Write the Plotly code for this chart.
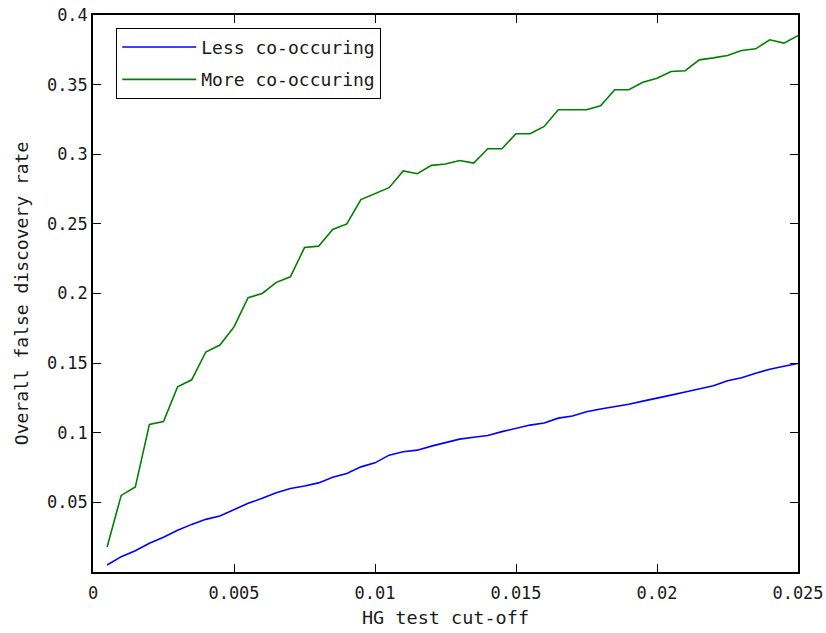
import plotly.graph_objects as go

cutoff = [0.0005 * k for k in range(1, 51)]

less_cooccurring = [
    0.005, 0.011, 0.0153, 0.0206, 0.0249, 0.030, 0.0342, 0.0378, 0.0402, 0.045,
    0.0493, 0.0529, 0.0569, 0.060, 0.0617, 0.064, 0.068, 0.0708, 0.0755, 0.0784,
    0.0839, 0.0863, 0.0875, 0.0904, 0.0928, 0.0954, 0.0968, 0.098, 0.1008, 0.1033,
    0.1055, 0.107, 0.1105, 0.112, 0.1151, 0.117, 0.1187, 0.1205, 0.1227, 0.1246,
    0.127, 0.1293, 0.1313, 0.1338, 0.1374, 0.1395, 0.1428, 0.1456, 0.1478, 0.1497,
]

more_cooccurring = [
    0.018, 0.055, 0.061, 0.106, 0.108, 0.133, 0.138, 0.158, 0.163, 0.176,
    0.197, 0.200, 0.208, 0.212, 0.233, 0.234, 0.246, 0.250, 0.2675, 0.272,
    0.276, 0.288, 0.286, 0.292, 0.293, 0.2955, 0.2936, 0.304, 0.304, 0.3147,
    0.3147, 0.320, 0.332, 0.332, 0.332, 0.3348, 0.3463, 0.3463, 0.3517, 0.3546,
    0.3594, 0.360, 0.3678, 0.3692, 0.3709, 0.3745, 0.3757, 0.3822, 0.3798, 0.3852,
]

x_ticks = [0, 0.005, 0.01, 0.015, 0.02, 0.025]
x_tick_labels = ["0", "0.005", "0.01", "0.015", "0.02", "0.025"]
y_ticks = [0.05, 0.1, 0.15, 0.2, 0.25, 0.3, 0.35, 0.4]
y_tick_labels = ["0.05", "0.1", "0.15", "0.2", "0.25", "0.3", "0.35", "0.4"]

FONT = "DejaVu Sans Mono"
TXT = "#1a1a1a"

fig = go.Figure()
fig.add_trace(go.Scatter(x=cutoff, y=less_cooccurring, mode="lines",
                         name="Less co-occuring", legendgroup="a",
                         line=dict(color="#0000ff", width=1.6)))
fig.add_trace(go.Scatter(x=cutoff, y=more_cooccurring, mode="lines",
                         name="More co-occuring", legendgroup="b",
                         line=dict(color="#008000", width=1.6)))

axis_common = dict(
    showgrid=False, zeroline=False, showline=True, linecolor="black",
    linewidth=1.5, mirror="ticks", ticks="inside", ticklen=8, tickwidth=1.2,
    tickcolor="black", tickfont=dict(family=FONT, size=17, color=TXT),
    automargin=False,
)

fig.update_layout(
    width=826, height=633,
    margin=dict(l=93, r=28, t=15, b=61),
    paper_bgcolor="white", plot_bgcolor="white",
    font=dict(family=FONT, size=17, color=TXT),
    xaxis=dict(range=[0, 0.025], tickvals=x_ticks, ticktext=x_tick_labels,
               ticklabelstandoff=5,
               title=dict(text="HG test cut-off", standoff=9,
                          font=dict(family=FONT, size=18.5, color=TXT)),
               **axis_common),
    yaxis=dict(range=[0, 0.4], tickvals=y_ticks, ticktext=y_tick_labels,
               title=dict(text="Overall false discovery rate", standoff=14,
                          font=dict(family=FONT, size=18, color=TXT)),
               **axis_common),
    legend=dict(x=0.033, y=0.977, xanchor="left", yanchor="top",
                bgcolor="white", bordercolor="black", borderwidth=1,
                font=dict(family=FONT, size=18, color=TXT),
                itemwidth=74, tracegroupgap=6),
    showlegend=True,
)

fig.write_html("out.html")
